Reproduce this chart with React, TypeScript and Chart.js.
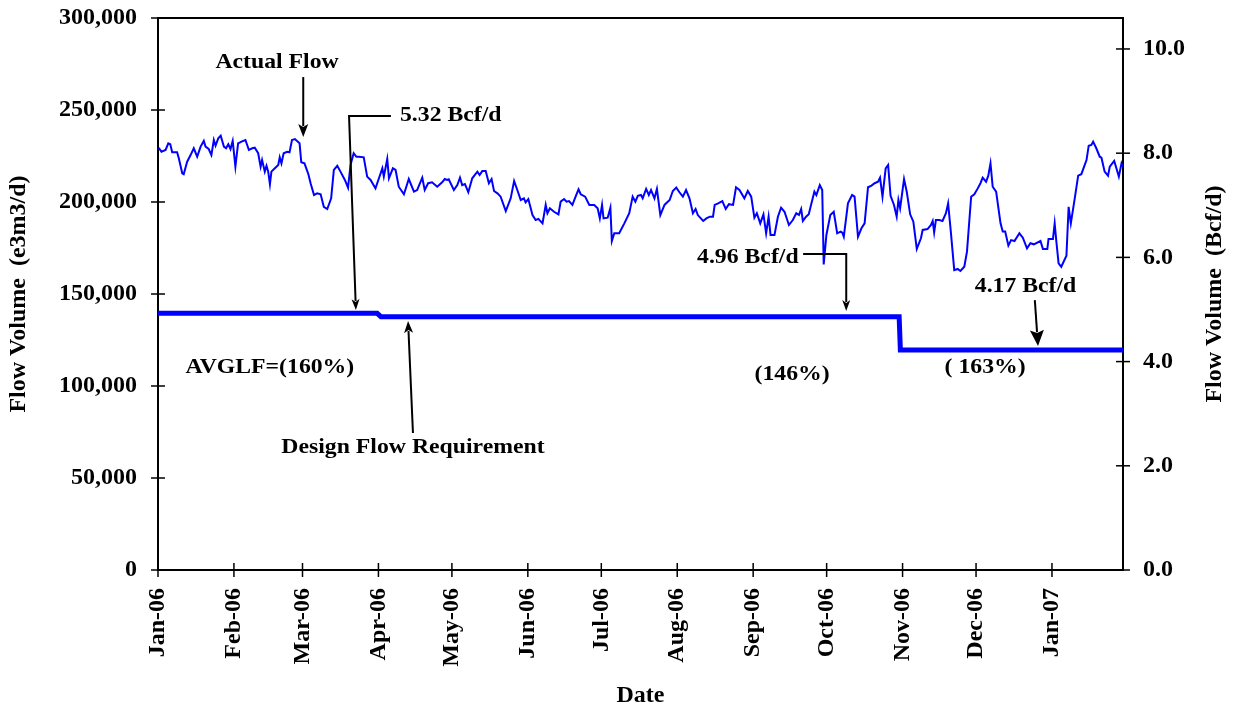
import React, { useEffect, useRef } from "react";
import { Chart, registerables } from "chart.js";

Chart.register(...registerables);

// ---------- axes ----------
const MONTH_TICK_DAYS = [0, 31, 59, 90, 120, 151, 181, 212, 243, 273, 304, 334, 365];
const MONTH_LABELS = ["Jan-06", "Feb-06", "Mar-06", "Apr-06", "May-06", "Jun-06", "Jul-06", "Aug-06", "Sep-06", "Oct-06", "Nov-06", "Dec-06", "Jan-07"];
const LEFT_TICKS = [0, 50000, 100000, 150000, 200000, 250000, 300000];
const RIGHT_TICKS = [0, 2, 4, 6, 8, 10];
const E3M3_PER_BCF = 28316.8;
const X_MAX_DAY = 394;

// ---------- data (day offset from 1 Jan 2006, flow in e3m3/d) ----------
const actualDays = [
  0.3, 1.4, 3.1, 4.2, 5.0, 5.8, 7.8, 8.5, 9.9, 10.5, 11.9, 13.3, 14.6, 16.0, 17.4, 18.7, 19.4, 20.7, 21.8, 22.8,
  23.5, 24.6, 25.6, 26.9, 27.8, 28.7, 29.6, 30.5, 31.6, 32.7, 34.1, 35.7, 37.1, 38.5, 39.5, 40.9, 41.9, 42.5, 43.6, 44.3,
  45.0, 45.7, 46.3, 47.7, 49.1, 49.7, 50.4, 51.3, 52.7, 53.7, 54.7, 55.9, 57.8, 58.5, 59.8, 61.4, 62.3, 63.7, 65.0, 66.4,
  67.7, 69.1, 70.7, 71.8, 73.2, 74.5, 76.3, 77.6, 78.6, 79.9, 81.0, 82.0, 84.0, 85.4, 86.8, 88.8, 90.2, 91.6, 92.2, 93.6,
  94.3, 95.9, 97.0, 98.3, 100.4, 102.4, 104.5, 105.8, 107.9, 108.9, 110.3, 111.9, 114.0, 116.0, 117.1, 118.1, 118.7, 120.8, 122.2, 123.3,
  124.2, 125.3, 126.7, 128.3, 130.4, 131.3, 132.4, 133.8, 135.1, 136.2, 137.2, 138.6, 139.9, 142.0, 144.0, 145.4, 146.7, 148.1, 149.4, 150.1,
  151.2, 152.9, 154.2, 155.3, 157.0, 158.3, 159.0, 160.0, 161.7, 163.5, 164.4, 165.8, 166.8, 167.8, 169.2, 170.5, 171.7, 172.6, 174.4, 176.1,
  178.1, 179.5, 180.4, 181.3, 181.9, 183.6, 184.7, 185.3, 186.3, 188.3, 190.4, 192.4, 193.8, 194.9, 195.9, 197.2, 197.9, 199.3, 200.4, 201.3,
  202.7, 203.7, 205.1, 206.8, 208.9, 210.2, 211.6, 212.9, 214.3, 215.6, 217.0, 218.4, 219.5, 220.4, 222.6, 223.9, 225.3, 226.6, 227.3, 228.7,
  230.4, 231.8, 233.1, 234.8, 236.0, 237.4, 239.4, 240.8, 242.2, 243.5, 244.5, 245.9, 247.2, 248.3, 249.3, 250.1, 251.7, 253.1, 254.4, 255.8,
  257.6, 259.2, 260.6, 261.7, 262.6, 263.3, 264.6, 265.7, 266.8, 268.0, 268.8, 270.2, 271.2, 271.8, 272.9, 274.5, 275.9, 277.3, 278.7, 279.4,
  280.0, 281.7, 283.4, 284.4, 285.8, 287.2, 288.5, 289.9, 291.3, 292.6, 294.0, 294.8, 295.8, 297.1, 298.1, 299.1, 300.5, 301.6, 302.3, 303.0,
  304.6, 305.7, 307.1, 308.4, 309.8, 311.5, 312.2, 314.2, 315.6, 316.3, 316.9, 317.6, 319.0, 320.3, 321.7, 322.6, 323.7, 325.1, 326.5, 327.6,
  329.2, 330.3, 332.0, 333.3, 334.7, 335.8, 336.7, 338.1, 339.0, 339.9, 340.8, 342.2, 344.0, 344.9, 345.9, 347.2, 348.3, 349.7, 351.7, 353.1,
  354.8, 356.2, 357.6, 360.3, 361.3, 363.1, 363.6, 365.4, 366.1, 366.8, 367.7, 368.8, 370.9, 371.8, 372.7, 374.3, 375.7, 377.0, 379.1, 380.0,
  381.1, 381.8, 383.1, 384.5, 385.2, 386.5, 387.9, 388.6, 390.4, 391.3, 392.3, 393.4, 394.0,
];
const actualFlow = [
  229500, 227300, 228300, 231900, 231400, 227000, 227000, 223800, 215600, 215100, 221900, 225500, 229200, 224600, 230100, 233200, 230100, 228800, 225500, 233700,
  230600, 234600, 236000, 230100, 229200, 231400, 228800, 233200, 219200, 231900, 232800, 233700, 228300, 229200, 229500, 226500, 219200, 222800, 216500, 219700,
  216500, 209600, 216500, 218300, 220100, 224300, 221000, 226500, 227300, 227000, 233700, 234200, 231900, 221600, 221000, 215100, 210200, 203800, 204700, 204200,
  197400, 196200, 202000, 217400, 219700, 216500, 212000, 207800, 220100, 226500, 224600, 224600, 224300, 213800, 212000, 207400, 212900, 218300, 213800, 223400,
  212900, 218300, 217400, 208300, 204200, 212500, 205600, 206500, 213200, 206500, 210200, 210700, 208300, 210700, 212500, 212000, 212300, 206500, 209200, 213200,
  209200, 209800, 205300, 212900, 216500, 214700, 216800, 216800, 210200, 212500, 206000, 204700, 202900, 195100, 202000, 211400, 206500, 201100, 202000, 199800,
  201600, 192900, 190200, 190800, 188400, 198400, 193900, 196600, 194700, 193300, 200200, 201600, 200200, 200500, 198400, 202900, 206900, 204200, 202900, 198400,
  198400, 196600, 191100, 198400, 191100, 191500, 196900, 178800, 183000, 183000, 188400, 193900, 202900, 200200, 203400, 203800, 202000, 207100, 203800, 206500,
  202000, 207100, 192900, 198400, 201100, 206000, 207800, 205300, 202900, 206500, 202000, 193900, 196200, 192900, 189700, 191100, 192000, 192000, 198400, 199300,
  200500, 196200, 198800, 198400, 208000, 206500, 202000, 206000, 202900, 191500, 193900, 188400, 193300, 183000, 192000, 182100, 182100, 192000, 196900, 194700,
  187500, 190200, 193900, 192900, 196200, 189700, 192000, 193300, 199300, 205600, 203800, 209200, 206500, 166100, 182100, 192900, 194700, 183000, 183900, 183300,
  181100, 199300, 203800, 202900, 181100, 185700, 188400, 208000, 208900, 210200, 211000, 213200, 202900, 218300, 220100, 203400, 198400, 192000, 201100, 196600,
  212500, 205600, 193300, 189300, 174500, 180300, 184800, 185300, 187500, 189700, 183500, 190200, 190200, 189700, 193900, 199300, 183900, 163000, 163600, 162500,
  164800, 173000, 202900, 204200, 207400, 210200, 213200, 211000, 214300, 221000, 208300, 205600, 188400, 183900, 183900, 176300, 179300, 178800, 183000, 180600,
  174800, 177600, 177000, 178800, 174500, 174500, 179900, 179900, 188400, 178400, 166700, 164800, 170800, 197400, 188400, 202000, 214300, 215100, 222800, 230600,
  231000, 232800, 229200, 224600, 224100, 216500, 214300, 219200, 222300, 218300, 213800, 221000, 219200,
];
const designDays = [0, 89.5, 91.0, 302.6, 303.1, 394];
const designFlow = [139500, 139500, 137700, 137700, 119600, 119600];

// ---------- annotations (anchored in data space: day, e3m3/d) ----------
const FONT_FAMILY = '"Liberation Serif", "Times New Roman", serif';
const noteTexts = [
  { text: "Actual Flow", day: 48.6, val: 275900, align: "center" },
  { text: "5.32 Bcf/d", day: 98.8, val: 246700, align: "left" },
  { text: "Design Flow Requirement", day: 104.1, val: 66300, align: "center" },
  { text: "AVGLF=(160%)", day: 45.7, val: 109800, align: "center" },
  { text: "(146%)", day: 258.9, val: 106000, align: "center" },
  { text: "( 163%)", day: 337.7, val: 109800, align: "center" },
  { text: "4.96 Bcf/d", day: 220.1, val: 169600, align: "left" },
  { text: "4.17 Bcf/d", day: 354.2, val: 154300, align: "center" },
];
const noteArrows = [
  { pts: [[59.3, 267900], [59.3, 235300]], headLen: 13, headHalf: 5 },
  { pts: [[95.1, 246700], [78.0, 246700], [80.8, 141300]], headLen: 11, headHalf: 4 },
  { pts: [[104.1, 74500], [102.1, 135300]], headLen: 12, headHalf: 4.5 },
  { pts: [[263.4, 171700], [281.0, 171700], [281.0, 140800]], headLen: 11, headHalf: 4 },
  { pts: [[358.0, 146700], [359.3, 121700]], headLen: 16, headHalf: 7 },
];

const drawPlugin = {
  id: "customDecor",
  afterDraw(chart: any) {
    const { ctx, chartArea } = chart;
    const { left, right, top, bottom } = chartArea;
    const xs = chart.scales.x;
    const ys = chart.scales.y;
    const ys2 = chart.scales.y2;
    ctx.save();
    ctx.strokeStyle = "#000";
    ctx.fillStyle = "#000";
    // top frame line
    ctx.lineWidth = 2;
    ctx.beginPath();
    ctx.moveTo(left - 1, top);
    ctx.lineTo(right + 1, top);
    ctx.stroke();
    // crossing tick marks
    ctx.lineWidth = 1.5;
    const seg = (x1: number, y1: number, x2: number, y2: number) => {
      ctx.beginPath();
      ctx.moveTo(x1, y1);
      ctx.lineTo(x2, y2);
      ctx.stroke();
    };
    ys.ticks.forEach((t: any) => {
      const y = ys.getPixelForValue(t.value);
      seg(left - 7, y, left + 7, y);
    });
    ys2.ticks.forEach((t: any) => {
      const y = ys2.getPixelForValue(t.value);
      seg(right - 7, y, right + 7, y);
    });
    xs.ticks.forEach((t: any) => {
      const x = xs.getPixelForValue(t.value);
      seg(x, bottom - 7, x, bottom + 7);
    });

    // right axis title (reads bottom to top)
    ctx.save();
    ctx.translate(1215, (top + bottom) / 2);
    ctx.rotate(-Math.PI / 2);
    ctx.font = `bold 24px ${FONT_FAMILY}`;
    ctx.textAlign = "center";
    ctx.textBaseline = "middle";
    ctx.fillText("Flow Volume  (Bcf/d)", 0, 0);
    ctx.restore();

    // annotation texts
    ctx.font = `bold 21px ${FONT_FAMILY}`;
    ctx.textBaseline = "middle";
    noteTexts.forEach((n) => {
      const x = xs.getPixelForValue(n.day);
      const y = ys.getPixelForValue(n.val);
      ctx.save();
      ctx.translate(x, y);
      ctx.scale(1.13, 1);
      ctx.textAlign = n.align as CanvasTextAlign;
      ctx.fillText(n.text, 0, 0);
      ctx.restore();
    });

    // annotation arrows
    ctx.lineWidth = 2;
    noteArrows.forEach((a) => {
      const p = a.pts.map(([d, v]) => [xs.getPixelForValue(d), ys.getPixelForValue(v)]);
      const n = p.length;
      const [tx, ty] = p[n - 1];
      const [px, py] = p[n - 2];
      const len = Math.hypot(tx - px, ty - py);
      const ux = (tx - px) / len;
      const uy = (ty - py) / len;
      const bx = tx - ux * a.headLen;
      const by = ty - uy * a.headLen;
      ctx.beginPath();
      ctx.moveTo(p[0][0], p[0][1]);
      for (let i = 1; i < n - 1; i++) ctx.lineTo(p[i][0], p[i][1]);
      ctx.lineTo(bx + ux * 2, by + uy * 2);
      ctx.stroke();
      ctx.beginPath();
      ctx.moveTo(tx, ty);
      ctx.lineTo(bx - uy * a.headHalf, by + ux * a.headHalf);
      ctx.lineTo(bx + ux * 3, by + uy * 3);
      ctx.lineTo(bx + uy * a.headHalf, by - ux * a.headHalf);
      ctx.closePath();
      ctx.fill();
    });
    ctx.restore();
  },
};

export default function App() {
  const canvasRef = useRef<HTMLCanvasElement | null>(null);

  useEffect(() => {
    if (!canvasRef.current) return;
    const tickFont = { family: FONT_FAMILY, size: 24, weight: "bold" as const };
    const titleFont = { family: FONT_FAMILY, size: 24, weight: "bold" as const };
    const chart = new Chart(canvasRef.current, {
      type: "line",
      data: {
        datasets: [
          {
            label: "Actual Flow",
            data: actualDays.map((d, i) => ({ x: d, y: actualFlow[i] })),
            borderColor: "#0000ff",
            borderWidth: 2,
            pointRadius: 0,
            tension: 0,
            fill: false,
          },
          {
            label: "Design Flow Requirement",
            data: designDays.map((d, i) => ({ x: d, y: designFlow[i] })),
            borderColor: "#0000ff",
            borderWidth: 5,
            pointRadius: 0,
            tension: 0,
            fill: false,
          },
        ],
      },
      options: {
        responsive: false,
        animation: false,
        layout: { padding: { top: 18, left: 0, right: 0, bottom: 0 } },
        plugins: { legend: { display: false }, tooltip: { enabled: false } },
        scales: {
          x: {
            type: "linear",
            position: "bottom",
            min: 0,
            max: X_MAX_DAY,
            grid: { display: false, drawTicks: false, tickLength: 0 },
            border: { display: true, color: "#000", width: 2 },
            afterBuildTicks: (scale: any) => {
              scale.ticks = MONTH_TICK_DAYS.map((v) => ({ value: v }));
            },
            afterFit: (scale: any) => {
              scale.height = 140;
              scale.paddingLeft = 0;
              scale.paddingRight = 0;
            },
            ticks: {
              autoSkip: false,
              minRotation: 90,
              maxRotation: 90,
              padding: 18,
              color: "#000",
              font: tickFont,
              callback: (v: any) => {
                const i = MONTH_TICK_DAYS.indexOf(Number(v));
                return i >= 0 ? MONTH_LABELS[i] : "";
              },
            },
            title: {
              display: true,
              text: "Date",
              color: "#000",
              font: titleFont,
              padding: { top: 0, bottom: 0 },
            },
          },
          y: {
            type: "linear",
            position: "left",
            min: 0,
            max: 300000,
            grid: { display: false, drawTicks: false, tickLength: 0 },
            border: { display: true, color: "#000", width: 2 },
            afterBuildTicks: (scale: any) => {
              scale.ticks = LEFT_TICKS.map((v) => ({ value: v }));
            },
            afterFit: (scale: any) => {
              scale.width = 158;
              scale.paddingTop = 0;
              scale.paddingBottom = 0;
            },
            ticks: {
              padding: 21,
              color: "#000",
              font: tickFont,
              callback: (v: any) => Number(v).toLocaleString("en-US"),
            },
            title: {
              display: true,
              text: "Flow Volume  (e3m3/d)",
              color: "#000",
              font: titleFont,
              padding: { top: 4, bottom: 0 },
            },
          },
          y2: {
            type: "linear",
            position: "right",
            min: 0,
            max: 300000 / E3M3_PER_BCF,
            grid: { display: false, drawTicks: false, tickLength: 0 },
            border: { display: true, color: "#000", width: 2 },
            afterBuildTicks: (scale: any) => {
              scale.ticks = RIGHT_TICKS.map((v) => ({ value: v }));
            },
            afterFit: (scale: any) => {
              scale.width = 113;
              scale.paddingTop = 0;
              scale.paddingBottom = 0;
            },
            ticks: {
              padding: 20,
              color: "#000",
              font: tickFont,
              callback: (v: any) => Number(v).toFixed(1),
            },
          },
        },
      },
      plugins: [drawPlugin],
    });
    return () => chart.destroy();
  }, []);

  return (
    <div style={{ position: "absolute", left: 0, top: 0, width: 1236, height: 710, background: "#fff" }}>
      <canvas ref={canvasRef} width={1236} height={710} style={{ display: "block" }} />
    </div>
  );
}
